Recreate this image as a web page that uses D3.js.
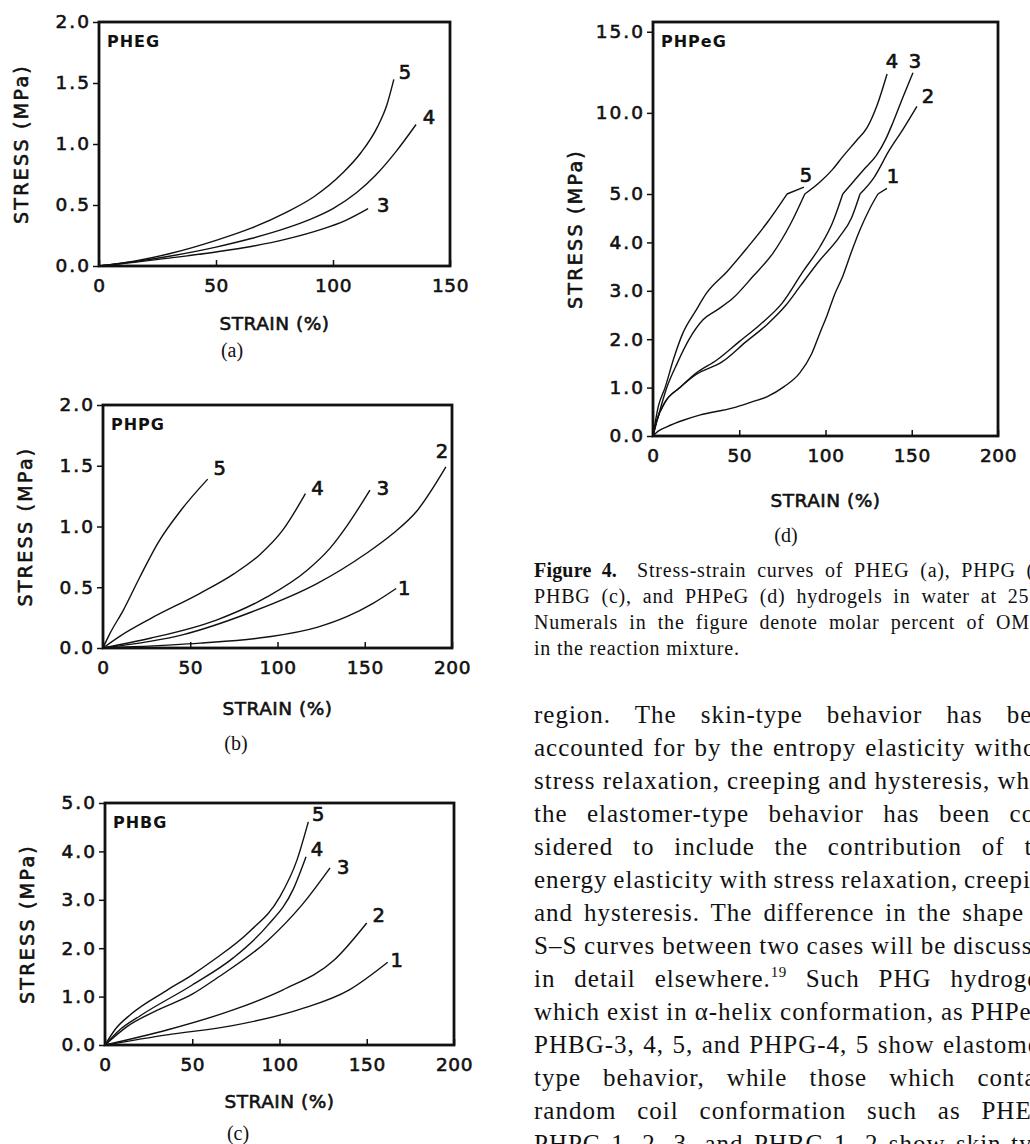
<!DOCTYPE html>
<html>
<head>
<meta charset="utf-8">
<script src="https://d3js.org/d3.v7.min.js"></script>
<style>
  html, body { margin: 0; padding: 0; background: #fff; overflow: hidden; }
  svg { display: block; }
</style>
</head>
<body>
<svg id="fig" width="1030" height="1144"></svg>
<script>
// ---- tick values ----
const strainTicksA = [0, 50, 100, 150];
const strainTicks = [0, 50, 100, 150, 200];
const stressTicksAB = [0, 0.5, 1.0, 1.5, 2.0];
const stressTicksC = [0, 1, 2, 3, 4, 5];
const stressTicksD = [0, 1, 2, 3, 4, 5, 10, 15];

// ---- (a) PHEG : [strain %, stress MPa] ----
const pheg3 = [[0,0],[15,0.03],[30,0.065],[50,0.115],[65,0.16],[80,0.22],[95,0.3],[105,0.37],[115,0.47]];
const pheg4 = [[0,0],[15,0.035],[30,0.08],[50,0.155],[65,0.225],[80,0.31],[90,0.38],[100,0.47],[110,0.6],[118,0.74],[127,0.94],[135.5,1.16]];
const pheg5 = [[0,0],[15,0.04],[30,0.1],[50,0.21],[65,0.31],[80,0.44],[92,0.57],[104,0.76],[112,0.93],[119,1.14],[123,1.32],[126,1.53]];

// ---- (b) PHPG ----
const phpg1 = [[0,0],[17,0.01],[55.6,0.04],[94,0.09],[122.6,0.17],[140,0.26],[155,0.37],[168,0.49]];
const phpg2 = [[0,0],[46,0.11],[84,0.29],[122.6,0.53],[151,0.78],[166,0.94],[180,1.13],[196.5,1.49]];
const phpg3 = [[0,0],[27,0.08],[65,0.23],[94,0.42],[117,0.64],[130,0.82],[140,1.01],[153,1.3]];
const phpg4 = [[0,0],[10,0.1],[27,0.24],[55.6,0.45],[75,0.61],[90,0.77],[103,0.97],[116,1.27]];
const phpg5 = [[0,0],[4,0.12],[11.6,0.31],[21,0.58],[31.7,0.87],[45,1.14],[60,1.39]];

// ---- (c) PHBG ----
const phbg1 = [[0,0],[35.5,0.21],[73,0.4],[112,0.74],[140,1.14],[162,1.71]];
const phbg2 = [[0,0],[35.5,0.31],[73,0.72],[102,1.14],[131.5,1.76],[150,2.52]];
const phbg3 = [[0,0],[12.6,0.38],[30,0.72],[50,1.05],[64,1.38],[93,2.15],[113,2.9],[129,3.66]];
const phbg4 = [[0,0],[8,0.3],[20,0.6],[50,1.24],[73.5,1.8],[92.7,2.45],[107.9,3.22],[115.2,3.89]];
const phbg5 = [[0,0],[6,0.33],[15,0.64],[35,1.12],[50,1.45],[62,1.75],[83,2.35],[100,3.05],[110,3.82],[116.5,4.61]];

// ---- (d) PHPeG (y axis breaks at 5.0) ----
const phpeg1 = [[0,0],[3,0.1],[8,0.19],[18,0.33],[27,0.43],[46.4,0.58],[57,0.7],[66,0.81],[76,1.02],[85,1.3],[92,1.7],[97,2.15],[101,2.5],[105,2.9],[110,3.3],[115,3.8],[120,4.26],[126,4.72],[130.4,5.0],[135.6,5.35]];
const phpeg2 = [[0,0],[2,0.3],[7,0.7],[15.6,1.0],[25,1.27],[40,1.53],[54,1.95],[66,2.3],[77,2.7],[85,3.08],[96,3.6],[108,4.11],[115,4.5],[120,5.0],[128,6.0],[137,7.7],[145,9.0],[153,10.4]];
const phpeg3 = [[0,0],[2,0.3],[7,0.7],[15.6,1.0],[25,1.3],[37,1.57],[50,1.95],[62,2.3],[75,2.75],[87,3.4],[96.8,3.91],[104,4.4],[110,5.0],[116,5.74],[123,6.6],[129.6,7.4],[135,8.4],[139,9.38],[145,11.0],[150.7,12.47]];
const phpeg4 = [[0,0],[3,0.4],[8,1.0],[14,1.5],[21,2.0],[29,2.4],[37,2.6],[46.4,2.85],[58,3.3],[69.6,3.78],[80,4.4],[88,5.0],[96.8,5.74],[104,6.5],[110,7.3],[118,8.3],[124,9.07],[130,10.5],[135.7,12.4]];
const phpeg5 = [[0,0],[3,0.6],[7,1.0],[12,1.6],[17,2.1],[25,2.6],[31,2.95],[43,3.4],[54.4,3.88],[66,4.4],[77.7,5.0],[87.5,5.43]];

// ---- text ----
const captionLead = "Figure 4.";
const captionLines = [
  "Stress-strain curves of PHEG (a), PHPG (b),",
  "PHBG (c), and PHPeG (d) hydrogels in water at 25°C.",
  "Numerals in the figure denote molar percent of OMEG",
  "in the reaction mixture."
];
const bodyLines = [
  "region. The skin-type behavior has been",
  "accounted for by the entropy elasticity without",
  "stress relaxation, creeping and hysteresis, while",
  "the elastomer-type behavior has been con-",
  "sidered to include the contribution of the",
  "energy elasticity with stress relaxation, creeping",
  "and hysteresis. The difference in the shape of",
  "S–S curves between two cases will be discussed",
  "in detail elsewhere.{19} Such PHG hydrogels",
  "which exist in α-helix conformation, as PHPeG,",
  "PHBG-3, 4, 5, and PHPG-4, 5 show elastomer-",
  "type behavior, while those which contain",
  "random coil conformation such as PHEG,",
  "PHPG-1, 2, 3, and PHBG-1, 2 show skin-type"
];

// ---- layout ----
const ink = "#111";
const chartFont = "'DejaVu Sans', sans-serif";
const serif = "'Liberation Serif', 'Times New Roman', serif";

const panels = [
  {id: "a", title: "PHEG", tag: "(a)", box: {x0: 99, x1: 450, y0: 22, y1: 266},
   xMax: 150, xTicks: strainTicksA, yDomain: [0, 2], yTicks: stressTicksAB,
   xlabY: 64, tagY: 91,
   series: [["5", pheg5], ["4", pheg4], ["3", pheg3]]},
  {id: "b", title: "PHPG", tag: "(b)", box: {x0: 103, x1: 452, y0: 405, y1: 648},
   xMax: 200, xTicks: strainTicks, yDomain: [0, 2], yTicks: stressTicksAB,
   xlabY: 67, tagY: 102,
   series: [["5", phpg5], ["4", phpg4], ["3", phpg3], ["2", phpg2], ["1", phpg1]]},
  {id: "c", title: "PHBG", tag: "(c)", box: {x0: 105, x1: 454, y0: 803, y1: 1045},
   xMax: 200, xTicks: strainTicks, yDomain: [0, 5], yTicks: stressTicksC,
   xlabY: 63, tagY: 95,
   series: [["5", phbg5], ["4", phbg4], ["3", phbg3], ["2", phbg2], ["1", phbg1]]},
  {id: "d", title: "PHPeG", tag: "(d)", box: {x0: 653, x1: 998, y0: 22, y1: 436},
   xMax: 200, xTicks: strainTicks, yDomain: [0, 5, 15.6], yBreakPx: 194, yTicks: stressTicksD,
   xlabY: 71, tagY: 106,
   series: [["5", phpeg5], ["4", phpeg4], ["3", phpeg3], ["2", phpeg2], ["1", phpeg1]]}
];

// pixel nudges of the numeral labels from each curve's end
const labelNudge = {
  a: {5: [11, -7], 4: [13, -7], 3: [15, -3]},
  b: {5: [12, -11], 4: [12, -5], 3: [13, -2], 2: [-4, -15], 1: [8, 0]},
  c: {5: [10, -7], 4: [11, -7], 3: [13, 0], 2: [12, -8], 1: [9, -2]},
  d: {5: [2, -12], 4: [5, -12], 3: [2, -11], 2: [11, -10], 1: [6, -12]}
};

// the scanned lettering is heavier than DejaVu Book, thicken it a bit
function heavy(sel, w) {
  sel.attr("stroke", ink).attr("stroke-width", w).attr("paint-order", "stroke");
}

const svg = d3.select("#fig");
svg.append("rect").attr("width", 1030).attr("height", 1144).attr("fill", "#fff");

panels.forEach(p => {
  const b = p.box;
  const g = svg.append("g").attr("class", "panel-" + p.id);

  const x = d3.scaleLinear().domain([0, p.xMax]).range([b.x0, b.x1]);
  const y = p.yBreakPx
    ? d3.scaleLinear().domain(p.yDomain).range([b.y1, p.yBreakPx, b.y0])
    : d3.scaleLinear().domain(p.yDomain).range([b.y1, b.y0]);

  // bottom axis, ticks point inward
  g.append("g")
    .attr("transform", `translate(0,${b.y1})`)
    .call(d3.axisBottom(x).tickValues(p.xTicks).tickSize(-6).tickPadding(13).tickFormat(d3.format("d")))
    .call(a => a.select(".domain").remove())
    .call(a => a.selectAll("line").attr("stroke", ink).attr("stroke-width", 1.5))
    .call(a => a.selectAll("text").attr("fill", ink).attr("font-size", 18.5).attr("font-family", chartFont)
      .attr("letter-spacing", 0.5).call(heavy, 0.6));

  // left axis, ticks point outward
  g.append("g")
    .attr("transform", `translate(${b.x0},0)`)
    .call(d3.axisLeft(y).tickValues(p.yTicks).tickSize(6).tickPadding(2).tickFormat(d3.format(".1f")))
    .call(a => a.select(".domain").remove())
    .call(a => a.selectAll("line").attr("stroke", ink).attr("stroke-width", 1.5))
    .call(a => a.selectAll("text").attr("fill", ink).attr("font-size", 18.5).attr("font-family", chartFont)
      .attr("letter-spacing", 2).call(heavy, 0.6));

  // frame
  g.append("rect")
    .attr("x", b.x0).attr("y", b.y0)
    .attr("width", b.x1 - b.x0).attr("height", b.y1 - b.y0)
    .attr("fill", "none").attr("stroke", ink).attr("stroke-width", 2.8);

  // curves
  const line = d3.line().x(d => x(d[0])).y(d => y(d[1])).curve(d3.curveMonotoneX);
  p.series.forEach(([name, pts]) => {
    // the broken axis in (d) bends every curve at 5.0
    const segs = p.yBreakPx ? [pts.filter(d => d[1] <= 5), pts.filter(d => d[1] >= 5)] : [pts];
    segs.filter(s => s.length > 1).forEach(s => {
      g.append("path").attr("d", line(s))
        .attr("fill", "none").attr("stroke", ink).attr("stroke-width", 1.4);
    });
    const end = pts[pts.length - 1];
    const [dx, dy] = labelNudge[p.id][name];
    g.append("text")
      .attr("x", x(end[0]) + dx).attr("y", y(end[1]) + dy)
      .attr("text-anchor", "middle").attr("dominant-baseline", "central")
      .attr("font-family", chartFont).attr("font-size", 19.5).attr("fill", ink)
      .call(heavy, 0.7)
      .text(name);
  });

  // panel title
  g.append("text")
    .attr("x", b.x0 + 8).attr("y", b.y0 + 25)
    .attr("font-family", chartFont).attr("font-weight", "bold").attr("font-size", 16)
    .attr("letter-spacing", 1).attr("fill", ink)
    .text(p.title);

  // axis titles
  g.append("text")
    .attr("x", (b.x0 + b.x1) / 2).attr("y", b.y1 + p.xlabY)
    .attr("text-anchor", "middle")
    .attr("font-family", chartFont).attr("font-size", 18.5).attr("letter-spacing", 0.5).attr("fill", ink)
    .call(heavy, 0.6)
    .text("STRAIN (%)");

  g.append("text")
    .attr("transform", `translate(${b.x0 - 78},${(b.y0 + b.y1) / 2}) rotate(-90)`)
    .attr("text-anchor", "middle").attr("dominant-baseline", "central")
    .attr("font-family", chartFont).attr("font-size", 19).attr("letter-spacing", 2.3).attr("fill", ink)
    .call(heavy, 0.6)
    .text("STRESS (MPa)");

  // (a), (b) ...
  g.append("text")
    .attr("x", b.x0 + 133).attr("y", b.y1 + p.tagY)
    .attr("text-anchor", "middle")
    .attr("font-family", serif).attr("font-size", 20).attr("fill", ink)
    .text(p.tag);
});

// ---- caption and body text (justified column) ----
const colX = 534, colW = 524;

function justify(t, width) {
  const n = (t.node().textContent.match(/ /g) || []).length;
  const w = t.node().getBBox().width;
  if (n) t.attr("word-spacing", (width - w) / n);
}

const cap = svg.append("g")
  .attr("font-family", serif).attr("font-size", 20).attr("letter-spacing", 0.8).attr("fill", ink);

captionLines.forEach((s, i) => {
  const t = cap.append("text").attr("x", colX).attr("y", 577 + 26 * i);
  if (i === 0) {
    t.append("tspan").attr("font-weight", "bold").attr("letter-spacing", 0.2).text(captionLead);
    t.append("tspan").attr("dx", 20).text(s);
  } else {
    t.text(s);
  }
  if (i < captionLines.length - 1) justify(t, colW);
});

const body = svg.append("g")
  .attr("font-family", serif).attr("font-size", 25).attr("letter-spacing", 1).attr("fill", ink);

bodyLines.forEach((s, i) => {
  const t = body.append("text").attr("x", colX).attr("y", 723 + 33 * i);
  let sup = false;
  s.split(/(\{\d+\})/).forEach(part => {
    if (!part) return;
    const m = part.match(/^\{(\d+)\}$/);
    if (m) {
      t.append("tspan").attr("dy", -10).attr("font-size", 15).attr("letter-spacing", 0.5).text(m[1]);
      sup = true;
    } else {
      const ts = t.append("tspan").text(part);
      if (sup) { ts.attr("dy", 10); sup = false; }
    }
  });
  justify(t, colW);
});
</script>
</body>
</html>
